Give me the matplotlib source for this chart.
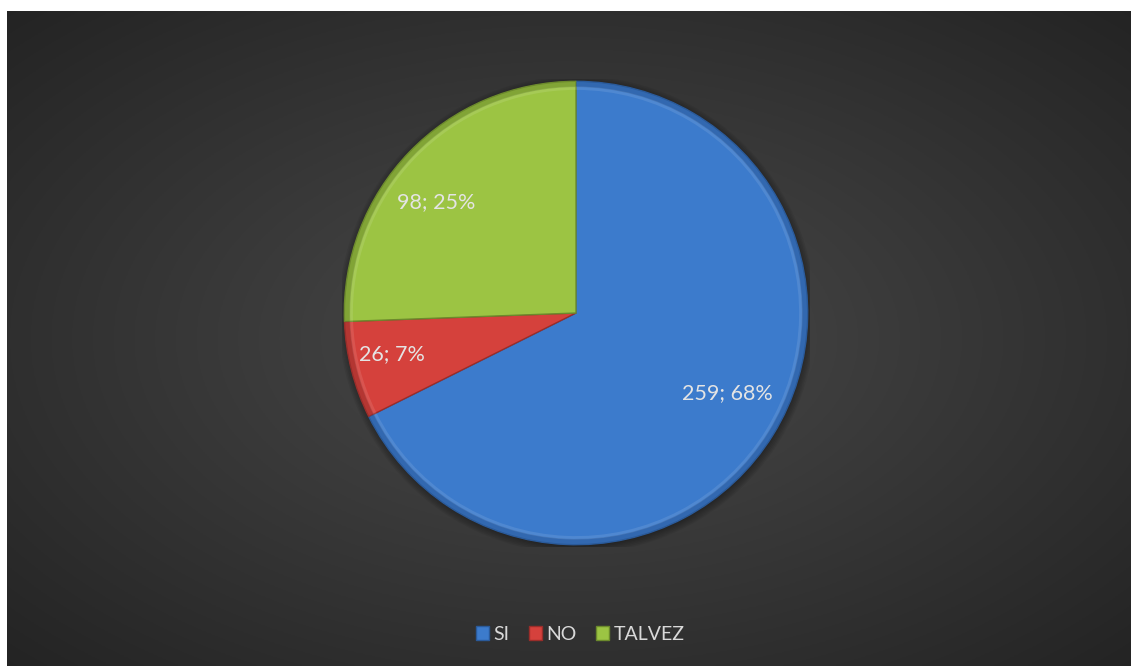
import numpy as np
import matplotlib.pyplot as plt
from matplotlib.patches import Wedge, Patch, Circle

# data
categories = ["SI", "NO", "TALVEZ"]
counts = [259, 26, 98]
percents = [68, 7, 25]

colors = ["#3c7bcc", "#d5413c", "#9cc443"]
dark_edges = ["#2a5a9a", "#9a2d2a", "#6c8a2c"]

W, H = 1131, 666
fig = plt.figure(figsize=(W / 100, H / 100), dpi=100)
fig.patch.set_facecolor("white")

# dark chart area with a soft radial gradient
bg = fig.add_axes([7 / W, 0, (W - 7) / W, (H - 11) / H])
yy, xx = np.mgrid[-1:1:300j, -1:1:500j]
rr = np.sqrt(xx ** 2 + yy ** 2) / np.sqrt(2)
shade = 0.29 - 0.15 * rr
bg.imshow(np.dstack([shade, shade, shade]), aspect="auto", extent=[0, 1, 0, 1])
bg.set_axis_off()

# pie axes: center ~ (576, 313) px, radius ~ 234 px
cx, cy, r = 576, 313, 234
ax = fig.add_axes([(cx - r) / W, (H - cy - r) / H, 2 * r / W, 2 * r / H])
ax.set_axis_off()

# soft shadow behind the pie
for k in range(6):
    ax.add_patch(Circle((0.004, -0.008), 1.0 + 0.006 * k, facecolor="black",
                        edgecolor="none", alpha=0.06, zorder=0))

wedges, _ = ax.pie(counts, colors=colors, startangle=90, counterclock=False,
                   radius=1.0, wedgeprops=dict(edgecolor="none"))

# simple bevel: dark rim and light inner stroke
for w, dc in zip(wedges, dark_edges):
    ax.add_patch(Wedge((0, 0), 1.0, w.theta1, w.theta2, width=0.025,
                       facecolor=dc, edgecolor="none", alpha=0.55))
    ax.add_patch(Wedge((0, 0), 0.978, w.theta1, w.theta2, width=0.015,
                       facecolor="white", edgecolor="none", alpha=0.10))
    w.set_edgecolor(dc)
    w.set_linewidth(1.0)

# data labels
label_dist = [0.74, 0.815, 0.77]
label_shift = [4, -1.7, 5.6]
for w, c, p, d, s in zip(wedges, counts, percents, label_dist, label_shift):
    ang = np.deg2rad((w.theta1 + w.theta2) / 2 + s)
    ax.text(d * np.cos(ang), d * np.sin(ang), f"{c}; {p}%",
            ha="center", va="center", color="#e4e4e4", fontsize=15.5,
            family=["Lato", "DejaVu Sans"])

ax.set_xlim(-1.01, 1.01)
ax.set_ylim(-1.01, 1.01)

handles = [Patch(facecolor=c, edgecolor=dc) for c, dc in zip(colors, dark_edges)]
leg = fig.legend(handles, categories, loc="center", bbox_to_anchor=(580 / W, 1 - 634 / H),
                 ncol=3, frameon=False, handlelength=0.7, handleheight=0.7,
                 handletextpad=0.2, columnspacing=1.0, prop=dict(family="Lato", size=14))
for t in leg.get_texts():
    t.set_color("#d9d9d9")

fig.savefig("out.png", dpi=100, facecolor=fig.get_facecolor())
